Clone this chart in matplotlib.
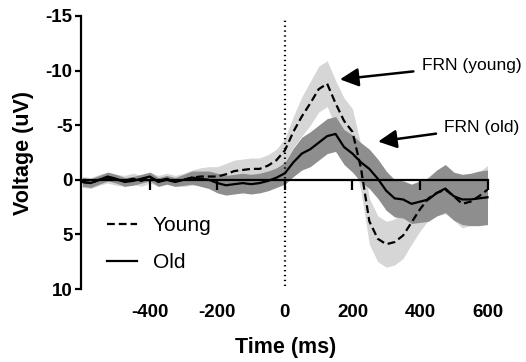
import matplotlib
matplotlib.use("Agg")
import matplotlib.pyplot as plt
import numpy as np

plt.rcParams['font.family'] = ['Liberation Sans', 'DejaVu Sans']

time_ms = list(range(-600, 601, 25))

young_mean = [0.2, 0.3, 0.0, -0.2, 0.0, 0.1, -0.1, 0.1, -0.2, 0.1, -0.1, 0.1, 0.0,
              -0.2, -0.3, -0.3, -0.3, -0.5, -0.8, -0.9, -1.0, -1.0, -1.3, -1.8,
              -2.7, -4.4, -5.8, -7.0, -8.3, -8.8, -7.0, -5.4, -4.4, -1.1, 3.8, 5.4,
              5.9, 5.7, 5.1, 3.9, 2.7, 1.7, 1.2, 0.9, 1.5, 2.2, 2.0, 1.5, 0.9]
young_se = [0.5, 0.5, 0.5, 0.5, 0.5, 0.5, 0.5, 0.5, 0.5, 0.5, 0.5, 0.5, 0.6,
            0.7, 0.8, 0.9, 0.9, 1.0, 1.0, 1.0, 1.0, 1.0, 1.0, 1.0,
            1.1, 1.4, 1.8, 2.0, 2.1, 2.1, 2.1, 2.1, 2.1, 2.1, 2.1, 2.1,
            2.1, 2.1, 2.1, 2.0, 2.0, 2.0, 2.1, 2.2, 2.2, 2.2, 2.2, 2.2, 2.2]

old_mean = [0.2, 0.3, 0.0, -0.3, -0.1, 0.2, 0.1, -0.1, -0.3, 0.2, 0.0, 0.2, 0.0,
            -0.2, -0.1, 0.0, 0.3, 0.5, 0.4, 0.3, 0.4, 0.3, 0.1, -0.2,
            -0.6, -1.6, -2.4, -2.8, -3.4, -4.0, -4.2, -3.0, -2.4, -1.6, -1.0, -0.1,
            1.0, 1.7, 1.8, 2.2, 2.0, 1.8, 1.2, 0.8, 1.5, 1.8, 1.8, 1.7, 1.6]
old_se = [0.4, 0.4, 0.4, 0.4, 0.4, 0.4, 0.4, 0.4, 0.4, 0.4, 0.4, 0.4, 0.5,
          0.6, 0.7, 0.8, 0.9, 0.9, 0.9, 0.9, 0.9, 0.9, 0.9, 0.9,
          1.0, 1.3, 1.5, 1.6, 1.6, 1.6, 1.6, 1.6, 1.7, 1.8, 1.8, 1.8,
          1.8, 1.7, 1.7, 1.8, 1.9, 2.0, 2.1, 2.2, 2.2, 2.3, 2.4, 2.5, 2.5]

x_ticks = [-400, -200, 0, 200, 400, 600]
y_ticks = [-15, -10, -5, 0, 5, 10]

W, H = 526, 362
fig = plt.figure(figsize=(W / 100, H / 100), dpi=100)
ax = fig.add_axes([81 / W, 1 - 289 / H, (500 - 81) / W, (289 - 16) / H])

t = np.array(time_ms)
ym, ys = np.array(young_mean), np.array(young_se)
om, os_ = np.array(old_mean), np.array(old_se)

ax.fill_between(t, ym - ys, ym + ys, color='#d6d6d6', lw=0, zorder=1)
ax.fill_between(t, om - os_, om + os_, color='#8e8e8e', lw=0, zorder=1.5)
l1, = ax.plot(t, ym, color='black', lw=1.6, dashes=(3.5, 1.8), zorder=3, label='Young')
l2, = ax.plot(t, om, color='black', lw=1.6, zorder=3, label='Old')

ax.axvline(0, color='black', lw=1.6, ls=(0, (0.6, 1.6)), ymin=0.01, ymax=0.99, zorder=2)

ax.set_xlim(-604, 637)
ax.set_ylim(10, -15)

for s in ['top', 'right']:
    ax.spines[s].set_visible(False)
ax.spines['left'].set_linewidth(1.6)
ax.spines['bottom'].set_linewidth(1.6)
ax.spines['bottom'].set_position(('data', 0))
ax.spines['bottom'].set_bounds(-604, 600)
ax.spines['bottom'].set_zorder(2.5)

ax.set_yticks(y_ticks)
ax.set_yticklabels([str(v) for v in y_ticks], fontsize=13.5, fontweight='bold')
ax.tick_params(axis='y', direction='out', length=4.5, width=1.6, pad=1.5)

ax.set_xticks(x_ticks)
ax.tick_params(axis='x', direction='out', length=7, width=1.6, labelbottom=False)

sec = ax.secondary_xaxis('bottom')
sec.spines['bottom'].set_visible(False)
sec.set_xticks(x_ticks)
sec.set_xticklabels([str(v) for v in x_ticks], fontsize=13.5, fontweight='bold')
sec.tick_params(axis='x', length=0, pad=11)

fig.text(286 / W, 1 - 348 / H, 'Time (ms)', fontsize=15.5, fontweight='bold',
         ha='center', va='center')
fig.text(24 / W, 1 - 153 / H, 'Voltage (uV)', fontsize=15.5, fontweight='bold',
         ha='center', va='center', rotation=90)

arrow = dict(arrowstyle='-|>,head_length=0.7,head_width=0.35', color='black', lw=1.8,
             shrinkA=4, shrinkB=0, mutation_scale=16)
ax.annotate('FRN (young)', xy=(163, -9.2), xytext=(405, -10.5), fontsize=12.5,
            ha='left', va='center', arrowprops=arrow)
ax.annotate('FRN (old)', xy=(276, -3.5), xytext=(472, -4.8), fontsize=12.5,
            ha='left', va='center', arrowprops=arrow)

leg = ax.legend(handles=[l1, l2], loc='center left', bbox_to_anchor=(107 / W, 1 - 244 / H),
                bbox_transform=fig.transFigure, frameon=False, fontsize=15,
                handlelength=1.45, handletextpad=0.75, labelspacing=0.85,
                borderpad=0, borderaxespad=0)

fig.savefig('out.png', dpi=100)
